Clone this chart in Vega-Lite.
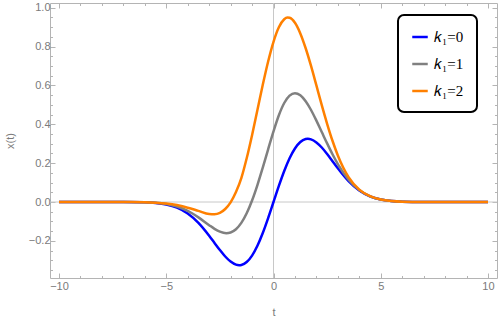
{
 "$schema": "https://vega.github.io/schema/vega-lite/v6.json",
 "width": 447,
 "height": 275,
 "autosize": {"type": "none"},
 "padding": {"left": 50, "top": 3, "right": 1, "bottom": 39},
 "background": "white",
 "config": {
  "view": {"stroke": "#b4b4b4", "strokeWidth": 1},
  "axis": {"grid": false, "domain": false, "tickColor": "#b4b4b4", "labelColor": "#7a7a7a", "labelFont": "Liberation Sans", "labelFontSize": 11, "titleFont": "Liberation Sans", "titleFontSize": 11, "titleColor": "#7a7a7a", "titleFontWeight": "normal"},
  "legend": {"strokeWidth": 2}
 },
 "datasets": {
  "zero": [{"t": 0, "x": 0}],
  "curves": [
   {"t": -10, "x": 0, "k": "𝑘₁=0"}, {"t": -8, "x": 0, "k": "𝑘₁=0"}, {"t": -7, "x": -0.0002, "k": "𝑘₁=0"}, {"t": -6, "x": -0.0018, "k": "𝑘₁=0"}, {"t": -5.5, "x": -0.005, "k": "𝑘₁=0"}, {"t": -5, "x": -0.0127, "k": "𝑘₁=0"}, {"t": -4.5, "x": -0.0289, "k": "𝑘₁=0"}, {"t": -4, "x": -0.0589, "k": "𝑘₁=0"}, {"t": -3.5, "x": -0.1072, "k": "𝑘₁=0"}, {"t": -3, "x": -0.1733, "k": "𝑘₁=0"}, {"t": -2.75, "x": -0.2103, "k": "𝑘₁=0"}, {"t": -2.5, "x": -0.2471, "k": "𝑘₁=0"}, {"t": -2.25, "x": -0.2804, "k": "𝑘₁=0"}, {"t": -2, "x": -0.3067, "k": "𝑘₁=0"}, {"t": -1.75, "x": -0.3224, "k": "𝑘₁=0"}, {"t": -1.6, "x": -0.3251, "k": "𝑘₁=0"}, {"t": -1.5, "x": -0.3238, "k": "𝑘₁=0"}, {"t": -1.25, "x": -0.3086, "k": "𝑘₁=0"}, {"t": -1, "x": -0.2756, "k": "𝑘₁=0"}, {"t": -0.75, "x": -0.2251, "k": "𝑘₁=0"}, {"t": -0.5, "x": -0.1595, "k": "𝑘₁=0"}, {"t": -0.25, "x": -0.0827, "k": "𝑘₁=0"}, {"t": 0, "x": 0, "k": "𝑘₁=0"}, {"t": 0.25, "x": 0.0827, "k": "𝑘₁=0"}, {"t": 0.5, "x": 0.1595, "k": "𝑘₁=0"}, {"t": 0.75, "x": 0.2251, "k": "𝑘₁=0"}, {"t": 1, "x": 0.2756, "k": "𝑘₁=0"}, {"t": 1.25, "x": 0.3086, "k": "𝑘₁=0"}, {"t": 1.5, "x": 0.3238, "k": "𝑘₁=0"}, {"t": 1.6, "x": 0.3251, "k": "𝑘₁=0"}, {"t": 1.75, "x": 0.3224, "k": "𝑘₁=0"}, {"t": 2, "x": 0.3067, "k": "𝑘₁=0"}, {"t": 2.25, "x": 0.2804, "k": "𝑘₁=0"}, {"t": 2.5, "x": 0.2471, "k": "𝑘₁=0"}, {"t": 2.75, "x": 0.2103, "k": "𝑘₁=0"}, {"t": 3, "x": 0.1733, "k": "𝑘₁=0"}, {"t": 3.5, "x": 0.1072, "k": "𝑘₁=0"}, {"t": 4, "x": 0.0589, "k": "𝑘₁=0"}, {"t": 4.5, "x": 0.0289, "k": "𝑘₁=0"}, {"t": 5, "x": 0.0127, "k": "𝑘₁=0"}, {"t": 5.5, "x": 0.005, "k": "𝑘₁=0"}, {"t": 6, "x": 0.0018, "k": "𝑘₁=0"}, {"t": 7, "x": 0.0002, "k": "𝑘₁=0"}, {"t": 8, "x": 0, "k": "𝑘₁=0"}, {"t": 10, "x": 0, "k": "𝑘₁=0"},
   {"t": -10, "x": 0, "k": "𝑘₁=1"}, {"t": -8, "x": 0, "k": "𝑘₁=1"}, {"t": -7, "x": -0.0003, "k": "𝑘₁=1"}, {"t": -6, "x": -0.0016, "k": "𝑘₁=1"}, {"t": -5.5, "x": -0.0042, "k": "𝑘₁=1"}, {"t": -5, "x": -0.0105, "k": "𝑘₁=1"}, {"t": -4.5, "x": -0.0232, "k": "𝑘₁=1"}, {"t": -4, "x": -0.0456, "k": "𝑘₁=1"}, {"t": -3.5, "x": -0.079, "k": "𝑘₁=1"}, {"t": -3, "x": -0.1191, "k": "𝑘₁=1"}, {"t": -2.75, "x": -0.1379, "k": "𝑘₁=1"}, {"t": -2.5, "x": -0.1525, "k": "𝑘₁=1"}, {"t": -2.2, "x": -0.1602, "k": "𝑘₁=1"}, {"t": -2, "x": -0.1566, "k": "𝑘₁=1"}, {"t": -1.75, "x": -0.1401, "k": "𝑘₁=1"}, {"t": -1.5, "x": -0.1076, "k": "𝑘₁=1"}, {"t": -1.25, "x": -0.0582, "k": "𝑘₁=1"}, {"t": -1, "x": 0.0075, "k": "𝑘₁=1"}, {"t": -0.75, "x": 0.0872, "k": "𝑘₁=1"}, {"t": -0.5, "x": 0.177, "k": "𝑘₁=1"}, {"t": -0.25, "x": 0.2712, "k": "𝑘₁=1"}, {"t": 0, "x": 0.3634, "k": "𝑘₁=1"}, {"t": 0.25, "x": 0.4464, "k": "𝑘₁=1"}, {"t": 0.5, "x": 0.5094, "k": "𝑘₁=1"}, {"t": 0.75, "x": 0.5475, "k": "𝑘₁=1"}, {"t": 1, "x": 0.5601, "k": "𝑘₁=1"}, {"t": 1.25, "x": 0.5491, "k": "𝑘₁=1"}, {"t": 1.5, "x": 0.5185, "k": "𝑘₁=1"}, {"t": 1.75, "x": 0.4734, "k": "𝑘₁=1"}, {"t": 2, "x": 0.4188, "k": "𝑘₁=1"}, {"t": 2.25, "x": 0.3602, "k": "𝑘₁=1"}, {"t": 2.5, "x": 0.3015, "k": "𝑘₁=1"}, {"t": 2.75, "x": 0.2458, "k": "𝑘₁=1"}, {"t": 3, "x": 0.1955, "k": "𝑘₁=1"}, {"t": 3.5, "x": 0.1148, "k": "𝑘₁=1"}, {"t": 4, "x": 0.0611, "k": "𝑘₁=1"}, {"t": 4.5, "x": 0.0294, "k": "𝑘₁=1"}, {"t": 5, "x": 0.0128, "k": "𝑘₁=1"}, {"t": 5.5, "x": 0.005, "k": "𝑘₁=1"}, {"t": 6, "x": 0.0018, "k": "𝑘₁=1"}, {"t": 7, "x": 0.0002, "k": "𝑘₁=1"}, {"t": 8, "x": 0, "k": "𝑘₁=1"}, {"t": 10, "x": 0, "k": "𝑘₁=1"},
   {"t": -10, "x": 0, "k": "𝑘₁=2"}, {"t": -8, "x": 0, "k": "𝑘₁=2"}, {"t": -7, "x": -0.0002, "k": "𝑘₁=2"}, {"t": -6, "x": -0.0011, "k": "𝑘₁=2"}, {"t": -5.5, "x": -0.0033, "k": "𝑘₁=2"}, {"t": -5, "x": -0.0077, "k": "𝑘₁=2"}, {"t": -4.5, "x": -0.0158, "k": "𝑘₁=2"}, {"t": -4, "x": -0.0294, "k": "𝑘₁=2"}, {"t": -3.5, "x": -0.0457, "k": "𝑘₁=2"}, {"t": -3, "x": -0.062, "k": "𝑘₁=2"}, {"t": -2.75, "x": -0.063, "k": "𝑘₁=2"}, {"t": -2.5, "x": -0.056, "k": "𝑘₁=2"}, {"t": -2.25, "x": -0.036, "k": "𝑘₁=2"}, {"t": -2, "x": -0.002, "k": "𝑘₁=2"}, {"t": -1.75, "x": 0.051, "k": "𝑘₁=2"}, {"t": -1.5, "x": 0.123, "k": "𝑘₁=2"}, {"t": -1.25, "x": 0.225, "k": "𝑘₁=2"}, {"t": -1, "x": 0.344, "k": "𝑘₁=2"}, {"t": -0.75, "x": 0.473, "k": "𝑘₁=2"}, {"t": -0.5, "x": 0.603, "k": "𝑘₁=2"}, {"t": -0.25, "x": 0.723, "k": "𝑘₁=2"}, {"t": 0, "x": 0.8245, "k": "𝑘₁=2"}, {"t": 0.25, "x": 0.899, "k": "𝑘₁=2"}, {"t": 0.5, "x": 0.9405, "k": "𝑘₁=2"}, {"t": 0.65, "x": 0.9491, "k": "𝑘₁=2"}, {"t": 0.75, "x": 0.9478, "k": "𝑘₁=2"}, {"t": 1, "x": 0.9221, "k": "𝑘₁=2"}, {"t": 1.25, "x": 0.8676, "k": "𝑘₁=2"}, {"t": 1.5, "x": 0.7912, "k": "𝑘₁=2"}, {"t": 1.75, "x": 0.7002, "k": "𝑘₁=2"}, {"t": 2, "x": 0.6, "k": "𝑘₁=2"}, {"t": 2.25, "x": 0.4984, "k": "𝑘₁=2"}, {"t": 2.5, "x": 0.4026, "k": "𝑘₁=2"}, {"t": 2.75, "x": 0.3151, "k": "𝑘₁=2"}, {"t": 3, "x": 0.2394, "k": "𝑘₁=2"}, {"t": 3.5, "x": 0.1278, "k": "𝑘₁=2"}, {"t": 4, "x": 0.0637, "k": "𝑘₁=2"}, {"t": 4.5, "x": 0.0299, "k": "𝑘₁=2"}, {"t": 5, "x": 0.0128, "k": "𝑘₁=2"}, {"t": 5.5, "x": 0.005, "k": "𝑘₁=2"}, {"t": 6, "x": 0.0018, "k": "𝑘₁=2"}, {"t": 7, "x": 0.0002, "k": "𝑘₁=2"}, {"t": 8, "x": 0, "k": "𝑘₁=2"}, {"t": 10, "x": 0, "k": "𝑘₁=2"}
  ]
 },
 "layer": [
  {
   "data": {"name": "zero"},
   "mark": {"type": "rule", "color": "#c8c8c8", "strokeWidth": 1},
   "encoding": {
    "x": {"field": "t", "type": "quantitative", "scale": {"domain": [-10.42, 10.42], "nice": false, "zero": false},
          "axis": {"orient": "bottom", "values": [-10,-9,-8,-7,-6,-5,-4,-3,-2,-1,0,1,2,3,4,5,6,7,8,9,10], "tickSize": -2.5, "labels": false, "title": null}}
   }
  },
  {
   "data": {"name": "zero"},
   "mark": {"type": "rule", "color": "#c8c8c8", "strokeWidth": 1},
   "encoding": {
    "y": {"field": "x", "type": "quantitative", "scale": {"domain": [-0.391, 1.024], "nice": false, "zero": false},
          "axis": {"orient": "left", "values": [-0.35,-0.3,-0.25,-0.2,-0.15,-0.1,-0.05,0,0.05,0.1,0.15,0.2,0.25,0.3,0.35,0.4,0.45,0.5,0.55,0.6,0.65,0.7,0.75,0.8,0.85,0.9,0.95,1.0], "tickSize": -2.5, "labels": false, "title": null}}
   }
  },
  {
   "data": {"name": "curves"},
   "mark": {"type": "line", "strokeWidth": 2.5, "interpolate": "monotone"},
   "encoding": {
    "x": {"field": "t", "type": "quantitative", "scale": {"domain": [-10.42, 10.42], "nice": false, "zero": false},
          "axis": {"orient": "bottom", "values": [-10, -5, 0, 5, 10], "tickSize": -5, "labelPadding": 7, "title": "t", "titlePadding": 15, "format": "d"}},
    "y": {"field": "x", "type": "quantitative", "scale": {"domain": [-0.391, 1.024], "nice": false, "zero": false},
          "axis": {"orient": "left", "values": [-0.2, 0, 0.2, 0.4, 0.6, 0.8, 1.0], "tickSize": -5, "labelPadding": 5, "format": ".1f", "title": "x(t)", "titlePadding": 13}},
    "color": {"field": "k", "type": "nominal",
              "scale": {"domain": ["𝑘₁=0", "𝑘₁=1", "𝑘₁=2"], "range": ["#0000ff", "#808080", "#ff8000"]},
              "legend": {"orient": "none", "legendX": 348, "legendY": 12, "title": null, "strokeColor": "black", "cornerRadius": 6, "fillColor": "white", "padding": 13, "symbolType": "stroke", "symbolStrokeWidth": 2.5, "symbolSize": 240, "rowPadding": 10, "labelFont": "Liberation Serif", "labelFontSize": 15, "labelColor": "black", "labelOffset": 5}}
   }
  },
  {
   "data": {"name": "curves"},
   "mark": {"type": "point", "opacity": 0},
   "encoding": {
    "x": {"field": "t", "type": "quantitative", "scale": {"domain": [-10.42, 10.42], "nice": false, "zero": false},
          "axis": {"orient": "top", "values": [-10, -5, 0, 5, 10], "tickSize": -5, "labels": false, "title": null}},
    "y": {"field": "x", "type": "quantitative", "scale": {"domain": [-0.391, 1.024], "nice": false, "zero": false},
          "axis": {"orient": "right", "values": [-0.2, 0, 0.2, 0.4, 0.6, 0.8, 1.0], "tickSize": -5, "labels": false, "title": null}}
   }
  },
  {
   "data": {"name": "curves"},
   "mark": {"type": "point", "opacity": 0},
   "encoding": {
    "x": {"field": "t", "type": "quantitative", "scale": {"domain": [-10.42, 10.42], "nice": false, "zero": false},
          "axis": {"orient": "top", "values": [-10,-9,-8,-7,-6,-5,-4,-3,-2,-1,0,1,2,3,4,5,6,7,8,9,10], "tickSize": -2.5, "labels": false, "title": null}},
    "y": {"field": "x", "type": "quantitative", "scale": {"domain": [-0.391, 1.024], "nice": false, "zero": false},
          "axis": {"orient": "right", "values": [-0.35,-0.3,-0.25,-0.2,-0.15,-0.1,-0.05,0,0.05,0.1,0.15,0.2,0.25,0.3,0.35,0.4,0.45,0.5,0.55,0.6,0.65,0.7,0.75,0.8,0.85,0.9,0.95,1.0], "tickSize": -2.5, "labels": false, "title": null}}
   }
  }
 ],
 "resolve": {"axis": {"x": "independent", "y": "independent"}}
}
